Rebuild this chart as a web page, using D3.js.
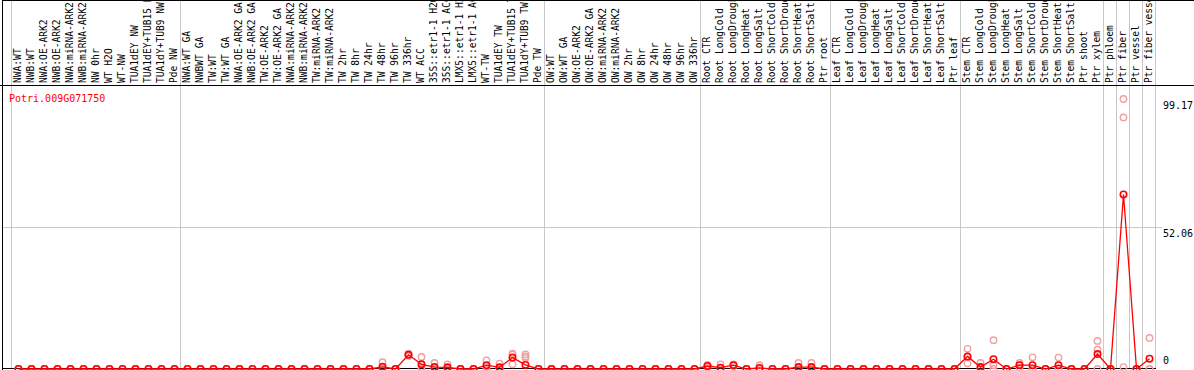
<!DOCTYPE html>
<html>
<head>
<meta charset="utf-8">
<script src="https://cdn.jsdelivr.net/npm/d3@7"></script>
<style>
  html, body { margin: 0; padding: 0; background: #fff; }
  svg { display: block; }
  text { font-family: "DejaVu Sans Mono", "Liberation Mono", monospace; }
</style>
</head>
<body>
<figure id="chart" style="margin:0"></figure>
<script>
// sample names, one column each
const samples = [
  "NWA:WT", "NWB:WT", "NWA:OE-ARK2", "NWB:OE-ARK2", "NWA:miRNA-ARK2", "NWB:miRNA-ARK2",
  "NW 0hr", "WT H2O", "WT-NW", "TUA1dEY NW", "TUA1dEY+TUB15 NW", "TUA1dY+TUB9 NW", "Pde NW",
  "NWA:WT GA", "NWBWT GA", "TW:WT", "TW:WT GA", "NWA:OE-ARK2 GA", "NWB:OE-ARK2 GA",
  "TW:OE-ARK2", "TW:OE-ARK2 GA", "NWA:miRNA-ARK2 GA", "NWB:miRNA-ARK2 GA", "TW:miRNA-ARK2",
  "TW:miRNA-ARK2", "TW 2hr", "TW 8hr", "TW 24hr", "TW 48hr", "TW 96hr", "TW 336hr", "WT ACC",
  "35S::etr1-1 H2O", "35S::etr1-1 ACC", "LMX5::etr1-1 H2O", "LMX5::etr1-1 ACC", "WT-TW",
  "TUA1dEY TW", "TUA1dEY+TUB15 TW", "TUA1dY+TUB9 TW", "Pde TW",
  "OW:WT", "OW:WT GA", "OW:OE-ARK2", "OW:OE-ARK2 GA", "OW:miRNA-ARK2", "OW:miRNA-ARK2",
  "OW 2hr", "OW 8hr", "OW 24hr", "OW 48hr", "OW 96hr", "OW 336hr",
  "Root CTR", "Root LongCold", "Root LongDrought", "Root LongHeat", "Root LongSalt",
  "Root ShortCold", "Root ShortDrought", "Root ShortHeat", "Root ShortSalt", "Ptr root",
  "Leaf CTR", "Leaf LongCold", "Leaf LongDrought", "Leaf LongHeat", "Leaf LongSalt",
  "Leaf ShortCold", "Leaf ShortDrought", "Leaf ShortHeat", "Leaf ShortSalt", "Ptr leaf",
  "Stem CTR", "Stem LongCold", "Stem LongDrought", "Stem LongHeat", "Stem LongSalt",
  "Stem ShortCold", "Stem ShortDrought", "Stem ShortHeat", "Stem ShortSalt",
  "Ptr shoot", "Ptr xylem", "Ptr phloem", "Ptr fiber", "Ptr vessel", "Ptr fiber vessel"
];

// mean expression per sample
const means = [
  0, 0, 0, 0, 0, 0, 0, 0, 0, 0, 0, 0, 0,
  0, 0, 0, 0, 0, 0, 0, 0, 0, 0, 0, 0, 0, 0, 0, 0.8, 0, 5.2, 1.7,
  0.7, 0.6, 0, 0, 1.4, 0.6, 4.2, 1.5, 0,
  0, 0, 0, 0, 0, 0, 0, 0, 0, 0, 0, 0,
  1.1, 0.5, 1.4, 0, 0.4, 0, 0, 0.7, 0.7, 0,
  0, 0, 0, 0, 0, 0, 0, 0, 0, 0,
  4.6, 0.7, 3.6, 0, 1.4, 1.4, 0, 1.4, 0,
  0, 5.5, 0, 64.1, 0, 3.8
];

// individual replicates
const rep1 = [
  0, 0, 0, 0, 0, 0, 0, 0, 0, 0, 0, 0, 0,
  0, 0, 0, 0, 0, 0, 0, 0, 0, 0, 0, 0, 0, 0, 0, 2.5, 0, 5.6, 4.4,
  2.2, 1.7, 0, 0, 3.2, 2.0, 5.6, 5.4, 0,
  0, 0, 0, 0, 0, 0, 0, 0, 0, 0, 0, 0,
  1.5, 1.7, 1.7, 0, 1.4, 0, 0, 2.2, 2.2, 0,
  0, 0, 0, 0, 0, 0, 0, 0, 0, 0,
  7.4, 2.2, 10.6, 0, 2.2, 4.3, 0, 4.2, 0,
  0, 10.3, 0, 99.17, 0, 11.4
];
const rep2 = [
  0, 0, 0, 0, 0, 0, 0, 0, 0, 0, 0, 0, 0,
  0, 0, 0, 0, 0, 0, 0, 0, 0, 0, 0, 0, 0, 0, 0, 0, 0, 5.2, 0.7,
  0, 0, 0, 0, 1.0, 0, 5.3, 4.6, 0,
  0, 0, 0, 0, 0, 0, 0, 0, 0, 0, 0, 0,
  1.2, 0, 1.4, 0, 0, 0, 0, 0, 0, 0,
  0, 0, 0, 0, 0, 0, 0, 0, 0, 0,
  4.4, 0, 1.4, 0, 1.5, 0, 0, 0, 0,
  0, 7.1, 0, 92.4, 0, 0
];
const rep3 = [
  0, 0, 0, 0, 0, 0, 0, 0, 0, 0, 0, 0, 0,
  0, 0, 0, 0, 0, 0, 0, 0, 0, 0, 0, 0, 0, 0, 0, 0, 0, 4.8, 0,
  0, 0, 0, 0, 0, 0, 1.7, 4.0, 0,
  0, 0, 0, 0, 0, 0, 0, 0, 0, 0, 0, 0,
  0.6, 0, 1.1, 0, 0, 0, 0, 0, 0, 0,
  0, 0, 0, 0, 0, 0, 0, 0, 0, 0,
  2.1, 0, 0, 0, 0.5, 0, 0, 0, 0,
  0, 0, 0, 0.7, 0, 0
];

// samples followed by a separator line
const groupEnds = [12, 40, 52, 62, 72, 83, 84, 85, 86, 87];
const yTicks = [99.17, 52.06, 0];
const geneId = "Potri.009G071750";

const width = 1194;
const height = 370;
const headerBottom = 85;

const svg = d3.select("figure#chart")
  .append("svg")
  .attr("width", width)
  .attr("height", height);

// x: one 13px column per sample
const x = d3.scaleBand()
  .domain(d3.range(samples.length))
  .range([12, 1156])
  .paddingInner(0)
  .paddingOuter(0);
const cx = i => x(i) + x.bandwidth() / 2;

const y = d3.scaleLinear()
  .domain([0, 99.17])
  .range([369, 99]);

// vertical separators
const sepX = [x(0) - 1].concat(groupEnds.map(i => x(i) + x.bandwidth() - 1));
svg.selectAll("line.sep")
  .data(sepX)
  .enter()
  .append("line")
  .attr("x1", d => d + 0.5)
  .attr("x2", d => d + 0.5)
  .attr("y1", 0)
  .attr("y2", 368)
  .attr("stroke", "#c8c8c8")
  .attr("stroke-width", 1);

// horizontal grid line at the middle tick
svg.append("line")
  .attr("x1", 2)
  .attr("x2", 1162)
  .attr("y1", Math.round(y(yTicks[1])) + 0.5)
  .attr("y2", Math.round(y(yTicks[1])) + 0.5)
  .attr("stroke", "#c8c8c8");

// frame
svg.append("line").attr("x1", 2).attr("x2", width).attr("y1", 0.5).attr("y2", 0.5).attr("stroke", "#000");
svg.append("line").attr("x1", 0).attr("x2", width).attr("y1", headerBottom + 0.5).attr("y2", headerBottom + 0.5).attr("stroke", "#000");
svg.append("line").attr("x1", 2.5).attr("x2", 2.5).attr("y1", 0).attr("y2", height).attr("stroke", "#000");
svg.append("line").attr("x1", 2).attr("x2", 1156).attr("y1", 368.5).attr("y2", 368.5).attr("stroke", "#000");

// sample labels, rotated (long ones run past the top edge, as in the original)
svg.selectAll("text.sample")
  .data(samples)
  .enter()
  .append("text")
  .attr("class", "sample")
  .attr("transform", (d, i) => "translate(" + (cx(i) + 2.5) + "," + (headerBottom - 2) + ")rotate(-90)")
  .attr("font-size", "9.6px")
  .attr("fill", "#000")
  .text(d => d);

// gene id
svg.append("text")
  .attr("x", 9)
  .attr("y", 102)
  .attr("font-size", "10px")
  .attr("fill", "#ff0000")
  .text(geneId);

// y tick labels on the right
svg.selectAll("text.tick")
  .data(yTicks)
  .enter()
  .append("text")
  .attr("class", "tick")
  .attr("x", 1163)
  .attr("y", d => Math.min(y(d) + 10, 364))
  .attr("font-size", "10px")
  .attr("fill", "#000")
  .text(d => d);

// replicates
[rep1, rep2, rep3].forEach(rep => {
  svg.append("g")
    .selectAll("circle")
    .data(rep)
    .enter()
    .append("circle")
    .attr("cx", (d, i) => cx(i))
    .attr("cy", d => y(d))
    .attr("r", 3.2)
    .attr("fill", "none")
    .attr("stroke", "#f0a0a0")
    .attr("stroke-width", 1.4);
});

// mean line
const line = d3.line()
  .x((d, i) => cx(i))
  .y(d => y(d));

svg.append("path")
  .datum(means)
  .attr("d", line)
  .attr("fill", "none")
  .attr("stroke", "#ff0000")
  .attr("stroke-width", 1.3);

svg.append("g")
  .selectAll("circle")
  .data(means)
  .enter()
  .append("circle")
  .attr("cx", (d, i) => cx(i))
  .attr("cy", d => y(d))
  .attr("r", 3.2)
  .attr("fill", "none")
  .attr("stroke", "#ff0000")
  .attr("stroke-width", 1.6);
</script>
</body>
</html>
